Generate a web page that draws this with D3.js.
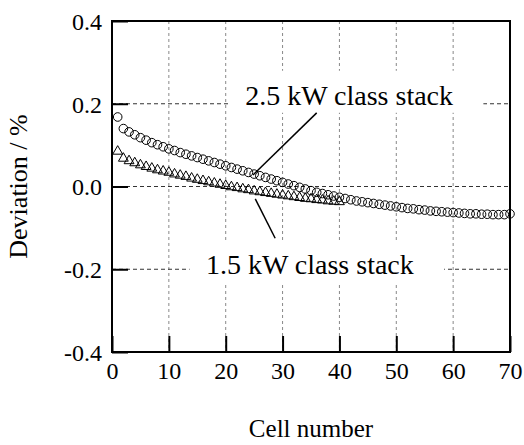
<!DOCTYPE html>
<html>
<head>
<meta charset="utf-8">
<script src="https://cdn.jsdelivr.net/npm/d3@7"></script>
</head>
<body style="margin:0">
<script>
// ---- data ----
const cells25 = d3.range(1, 71);
const dev25 = [0.168, 0.140, 0.132, 0.125, 0.118, 0.112, 0.106, 0.101, 0.096, 0.091,
               0.087, 0.082, 0.078, 0.074, 0.070, 0.066, 0.062, 0.058, 0.054, 0.050,
               0.046, 0.042, 0.038, 0.034, 0.030, 0.026, 0.022, 0.018, 0.014, 0.010,
               0.006, 0.002, -0.002, -0.006, -0.010, -0.014, -0.017, -0.020, -0.023, -0.026,
               -0.029, -0.032, -0.035, -0.037, -0.039, -0.041, -0.043, -0.045, -0.047, -0.049,
               -0.051, -0.053, -0.054, -0.056, -0.057, -0.059, -0.060, -0.061, -0.062, -0.063,
               -0.064, -0.065, -0.066, -0.066, -0.067, -0.067, -0.068, -0.068, -0.068, -0.066];
const cells15 = d3.range(1, 41);
const dev15 = [0.085, 0.068, 0.062, 0.057, 0.052, 0.048, 0.044, 0.040, 0.037, 0.034,
               0.030, 0.027, 0.024, 0.020, 0.017, 0.014, 0.011, 0.008, 0.005, 0.002,
               -0.001, -0.003, -0.006, -0.008, -0.011, -0.013, -0.015, -0.017, -0.019, -0.021,
               -0.023, -0.025, -0.027, -0.029, -0.030, -0.032, -0.033, -0.035, -0.036, -0.037];
const xTicks = [0, 10, 20, 30, 40, 50, 60, 70];
const yTicks = [-0.4, -0.2, 0.0, 0.2, 0.4];
const xLabel = "Cell number";
const yLabel = "Deviation / %";
const label25 = "2.5 kW class stack";
const label15 = "1.5 kW class stack";
// annotation anchors in data units: [x, y]
const pointer25 = [[36.0, 0.178], [24.8, 0.028]];
const pointer15 = [[25.2, -0.030], [28.7, -0.125]];
const text25At = [41.7, 0.2];
const text15At = [34.8, -0.2];

// ---- layout ----
const L = 112, R = 510, T = 21, B = 352;
const SERIF = "Liberation Serif";
const svg = d3.select("body").append("svg").attr("width", 524).attr("height", 445);
const x = d3.scaleLinear().domain([0, 70]).range([L, R]);
const y = d3.scaleLinear().domain([-0.4, 0.4]).range([B, T]);
function serif(sel, size) {
  return sel.attr("font-family", SERIF).attr("font-size", size)
    .style("font-family", SERIF, "important").style("font-size", size + "px", "important")
    .attr("fill", "#000");
}

svg.append("rect").attr("width", 524).attr("height", 445).attr("fill", "#fff");

// grid
const grid = svg.append("g");
grid.selectAll("line.v").data(xTicks.slice(1, -1)).enter().append("line")
  .attr("x1", d => x(d)).attr("x2", d => x(d)).attr("y1", T).attr("y2", B)
  .attr("stroke", "#888").attr("stroke-width", 1).attr("stroke-dasharray", "3,3");
grid.selectAll("line.h").data(yTicks.slice(1, -1)).enter().append("line")
  .attr("x1", L).attr("x2", R).attr("y1", d => y(d)).attr("y2", d => y(d))
  .attr("stroke", "#333").attr("stroke-width", 1).attr("stroke-dasharray", "4,3");

// labels with white backgrounds that hide the grid
function labelBox(at, dyPx, txt) {
  const g = svg.append("g");
  const by = y(at[1]) + dyPx;
  const w = 7.45 * 28;
  g.append("rect").attr("x", x(at[0]) - w / 2 - 16).attr("y", by - 34)
    .attr("width", w + 46).attr("height", 42).attr("fill", "#fff");
  serif(g.append("text").attr("x", x(at[0])).attr("y", by).attr("text-anchor", "middle"), 28).text(txt);
}
labelBox(text25At, 1, label25);
labelBox(text15At, 5, label15);

// pointers
const line = d3.line().x(d => x(d[0])).y(d => y(d[1]));
svg.append("path").attr("d", line(pointer25)).attr("stroke", "#000").attr("stroke-width", 1.5).attr("fill", "none");
svg.append("path").attr("d", line(pointer15)).attr("stroke", "#000").attr("stroke-width", 1.5).attr("fill", "none");

// markers
svg.append("g").selectAll("path").data(cells15).enter().append("path")
  .attr("d", d3.symbol().type(d3.symbolTriangle).size(42))
  .attr("transform", (d, i) => `translate(${x(d)},${y(dev15[i])})`)
  .attr("fill", "none").attr("stroke", "#000").attr("stroke-width", 1);
svg.append("g").selectAll("circle").data(cells25).enter().append("circle")
  .attr("cx", d => x(d)).attr("cy", (d, i) => y(dev25[i])).attr("r", 4.3)
  .attr("fill", "none").attr("stroke", "#000").attr("stroke-width", 1);

// axes (inward ticks)
const xAxis = d3.axisBottom(x).tickValues(xTicks).tickSizeInner(-16).tickSizeOuter(0).tickFormat(d => String(d));
const yAxis = d3.axisLeft(y).tickValues(yTicks).tickSizeInner(-16).tickSizeOuter(0).tickFormat(d => d.toFixed(1));
const gx = svg.append("g").attr("transform", `translate(0,${B})`).call(xAxis);
const gy = svg.append("g").attr("transform", `translate(${L},0)`).call(yAxis);
[gx, gy].forEach(g => {
  g.attr("font-family", SERIF).attr("font-size", 24);
  g.selectAll(".domain").remove();
  g.selectAll(".tick line").attr("stroke", "#000").attr("stroke-width", 2);
  serif(g.selectAll(".tick text"), 24);
});
gx.selectAll(".tick text").attr("y", 10).attr("dy", "0.71em");
gy.selectAll(".tick text").attr("x", -10).attr("dy", "0.35em");

// frame
svg.append("rect").attr("x", L).attr("y", T).attr("width", R - L).attr("height", B - T)
  .attr("fill", "none").attr("stroke", "#000").attr("stroke-width", 2);

// axis titles
serif(svg.append("text").attr("x", (L + R) / 2).attr("y", 437).attr("text-anchor", "middle"), 25).text(xLabel);
serif(svg.append("text").attr("transform", `translate(27,${(T + B) / 2}) rotate(-90)`)
  .attr("text-anchor", "middle"), 26).text(yLabel);
</script>
</body>
</html>
